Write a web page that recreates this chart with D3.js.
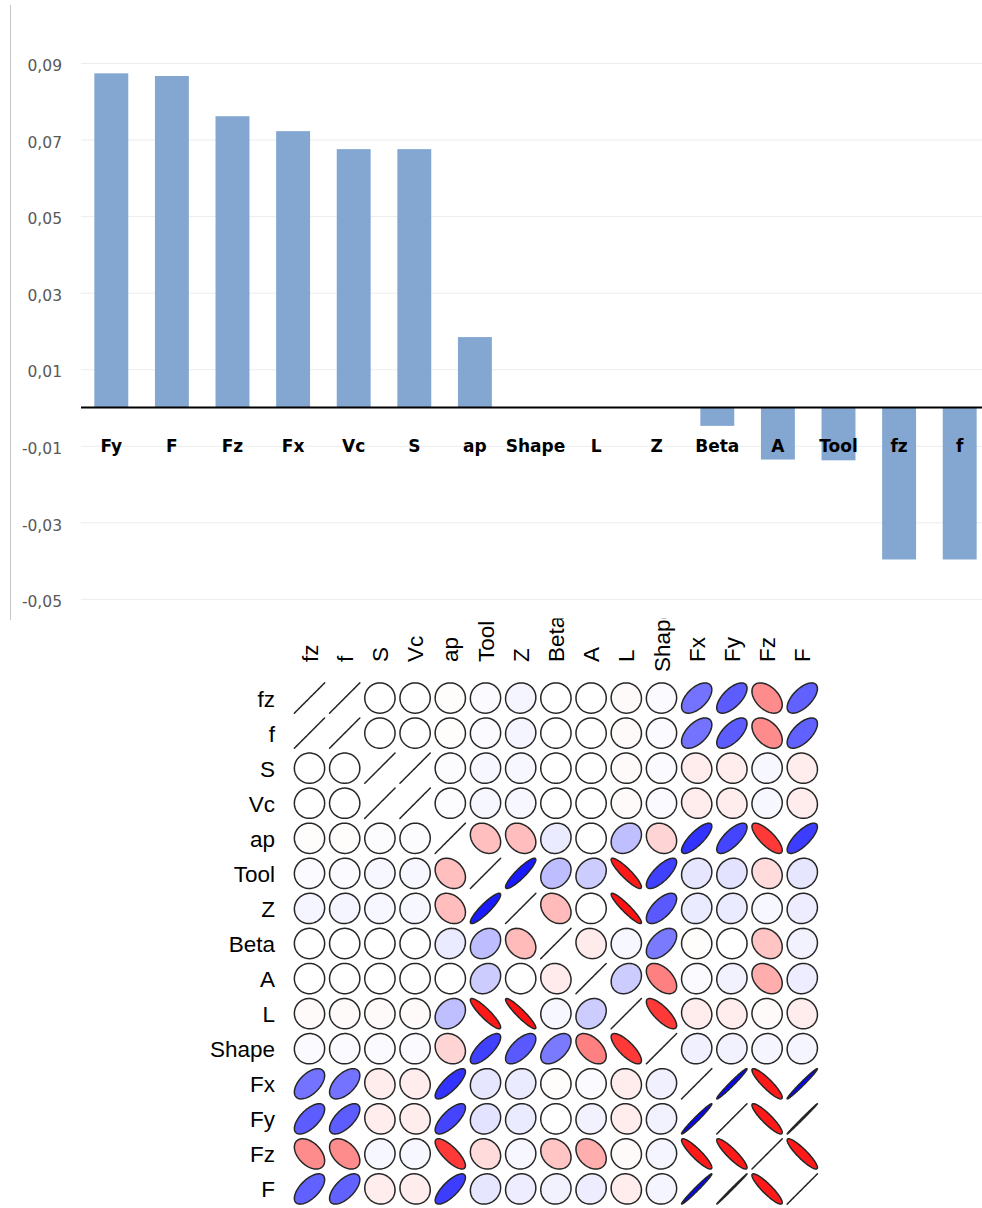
<!DOCTYPE html>
<html>
<head>
<meta charset="utf-8">
<script src="https://cdn.jsdelivr.net/npm/d3@7"></script>
<style>
  html, body { margin: 0; padding: 0; background: #ffffff; }
  svg { display: block; }
</style>
</head>
<body>
<svg id="chart" width="982" height="1208"></svg>
<script>
// ---- Bar chart: correlation of each variable with the target ----
const categories = ["Fy", "F", "Fz", "Fx", "Vc", "S", "ap", "Shape", "L", "Z", "Beta", "A", "Tool", "fz", "f"];
const values = [0.0873, 0.0866, 0.0761, 0.0722, 0.0675, 0.0675, 0.0184, 0, 0, 0, -0.0048, -0.0136, -0.0138, -0.0397, -0.0397];
const yTicks = [0.09, 0.07, 0.05, 0.03, 0.01, -0.01, -0.03, -0.05];

// ---- Correlation matrix (upper triangle, row by row, diagonal excluded) ----
const variables = ["fz", "f", "S", "Vc", "ap", "Tool", "Z", "Beta", "A", "L", "Shape", "Fx", "Fy", "Fz", "F"];
const corrUpper = [
  /* fz    */ [1.0, 0.0, 0.0, -0.01, 0.02, 0.04, 0.0, 0.0, -0.02, 0.02, 0.55, 0.64, -0.45, 0.62],
  /* f     */ [0.0, 0.0, -0.01, 0.02, 0.04, 0.0, 0.0, -0.02, 0.02, 0.55, 0.64, -0.45, 0.62],
  /* S     */ [1.0, 0.01, 0.03, 0.03, 0.0, 0.0, -0.02, 0.02, -0.07, -0.07, 0.03, -0.07],
  /* Vc    */ [0.01, 0.03, 0.03, 0.0, 0.0, -0.02, 0.02, -0.07, -0.07, 0.03, -0.07],
  /* ap    */ [-0.25, -0.26, 0.08, 0.0, 0.25, -0.17, 0.8, 0.73, -0.78, 0.76],
  /* Tool  */ [0.9, 0.26, 0.2, -0.9, 0.75, 0.1, 0.11, -0.14, 0.1],
  /* Z     */ [-0.27, 0.0, -0.93, 0.65, 0.08, 0.08, 0.03, 0.07],
  /* Beta  */ [-0.08, 0.03, 0.52, -0.01, 0.0, -0.23, 0.05],
  /* A     */ [0.2, -0.5, 0.02, 0.05, -0.32, 0.07],
  /* L     */ [-0.78, -0.07, -0.07, -0.02, -0.07],
  /* Shape */ [0.06, 0.05, 0.04, 0.04],
  /* Fx    */ [0.98, -0.9, 0.985],
  /* Fy    */ [-0.9, 0.998],
  /* Fz    */ [-0.9]
];

// full symmetric matrix built from the triangle
const corr = variables.map((_, i) => variables.map((_, j) => {
  if (i === j) return 1;
  const a = Math.min(i, j), b = Math.max(i, j);
  return corrUpper[a][b - a - 1];
}));

const svg = d3.select("#chart");

// ================= Bar chart =================
const x = d3.scaleBand().domain(categories).range([81, 990]).paddingInner(0.44).paddingOuter(0.22);
const y = d3.scaleLinear().domain([-0.05, 0.09]).range([598.9, 63]);
const locale = d3.formatLocale({ decimal: ",", thousands: ".", grouping: [3], currency: ["", ""], minus: "-" });
const fmt = locale.format(".2f");

// left axis rule
svg.append("line")
  .attr("x1", 10.5).attr("x2", 10.5).attr("y1", 5).attr("y2", 620)
  .attr("stroke", "#c6c6c6").attr("stroke-width", 1);

// gridlines + tick labels via d3.axisLeft
const yAxis = svg.append("g")
  .attr("transform", "translate(81,0)")
  .call(d3.axisLeft(y).tickValues(yTicks).tickSize(-901).tickFormat(fmt));
yAxis.select(".domain").remove();
yAxis.selectAll(".tick line").attr("stroke", "#ececec").attr("stroke-width", 1);
yAxis.selectAll(".tick text")
  .attr("x", -19).attr("dy", "0.5em")
  .attr("fill", "#595959")
  .style("font-family", "'DejaVu Sans', sans-serif")
  .style("font-size", "15.5px");

// bars
svg.append("g").selectAll("rect").data(values).join("rect")
  .attr("x", (d, i) => x(categories[i]))
  .attr("width", x.bandwidth())
  .attr("y", d => y(Math.max(0, d)))
  .attr("height", d => Math.abs(y(d) - y(0)))
  .attr("fill", "#84a7d1");

// zero line
svg.append("line")
  .attr("x1", 81).attr("x2", 982).attr("y1", y(0)).attr("y2", y(0))
  .attr("stroke", "#000").attr("stroke-width", 1.8);

// category labels
svg.append("g").selectAll("text").data(categories).join("text")
  .attr("x", d => x(d) + x.bandwidth() / 2)
  .attr("y", 452)
  .attr("text-anchor", "middle")
  .style("font-family", "'DejaVu Sans', sans-serif")
  .style("font-weight", "bold")
  .style("font-size", "17px")
  .attr("fill", "#000")
  .text(d => d);

// ================= Ellipse correlation matrix =================
const cx = d3.scaleBand().domain(variables).range([291.9, 819.9]);
const cy = d3.scaleBand().domain(variables).range([680.5, 1206.5]);
const color = d3.scaleLinear().domain([-1, 0, 1]).range(["#ff0000", "#ffffff", "#0000ff"]);

// ellipse outline of a bivariate normal with correlation r (t = 0.43 of a cell)
function ellipsePath(r, size) {
  const d = Math.acos(Math.max(-1, Math.min(1, r)));
  const t = 0.43 * size;
  const pts = d3.range(0, 100).map(k => {
    const a = (k / 100) * 2 * Math.PI;
    return [t * Math.cos(a + d / 2), -t * Math.cos(a - d / 2)];
  });
  return d3.line()(pts) + "Z";
}

const cells = [];
corr.forEach((row, i) => row.forEach((r, j) => cells.push({ i, j, r })));

svg.append("g").selectAll("path").data(cells).join("path")
  .attr("transform", d => `translate(${cx(variables[d.j]) + cx.bandwidth() / 2},${cy(variables[d.i]) + cy.bandwidth() / 2})`)
  .attr("d", d => ellipsePath(d.r, cx.bandwidth()))
  .attr("fill", d => color(d.r))
  .attr("stroke", "#262626")
  .attr("stroke-width", 1.5)
  .attr("stroke-linejoin", "round");

// row labels
svg.append("g").selectAll("text").data(variables).join("text")
  .attr("x", 275)
  .attr("y", d => cy(d) + cy.bandwidth() / 2 + 8.5)
  .attr("text-anchor", "end")
  .style("font-family", "'Liberation Sans', Arial, sans-serif")
  .style("font-size", "22.5px")
  .attr("fill", "#000")
  .text(d => d);

// column labels (top edge trimmed where the bar chart panel ends)
svg.append("clipPath").attr("id", "colclip")
  .append("rect").attr("x", 0).attr("y", 618.5).attr("width", 982).attr("height", 600);

const colLabelBase = { Shape: 672 };
svg.append("g").attr("clip-path", "url(#colclip)")
  .selectAll("text").data(variables).join("text")
  .attr("transform", d => `translate(${cx(d) + cx.bandwidth() / 2 + 8},${colLabelBase[d] || 662}) rotate(-90)`)
  .attr("text-anchor", "start")
  .style("font-family", "'Liberation Sans', Arial, sans-serif")
  .style("font-size", "22.5px")
  .attr("fill", "#000")
  .text(d => d);
</script>
</body>
</html>
